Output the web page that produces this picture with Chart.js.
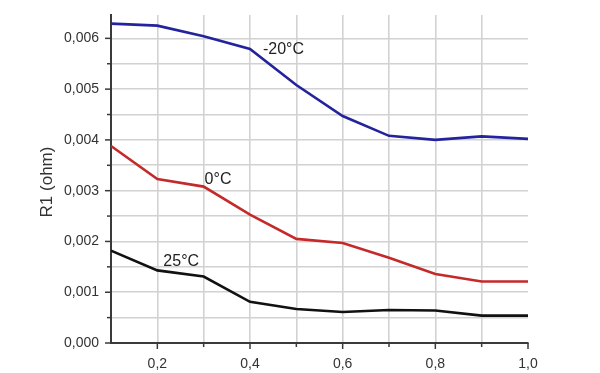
<!DOCTYPE html>
<html>
<head>
<meta charset="utf-8">
<script src="https://cdn.jsdelivr.net/npm/chart.js@4.4.1/dist/chart.umd.min.js"></script>
<style>
html,body{margin:0;padding:0;background:#fff;}
#wrap{width:600px;height:373px;position:relative;}
</style>
</head>
<body>
<div id="wrap"><canvas id="c" width="600" height="373"></canvas></div>
<script>
// ---- data ----
const xValues = [0.1, 0.2, 0.3, 0.4, 0.5, 0.6, 0.7, 0.8, 0.9, 1.0];
const seriesMinus20 = [0.00629, 0.00625, 0.00604, 0.00579, 0.00508, 0.00447, 0.00408, 0.00400, 0.00407, 0.00402];
const series0 = [0.00388, 0.00323, 0.00308, 0.00253, 0.00205, 0.00197, 0.00168, 0.00136, 0.00121, 0.00121];
const series25 = [0.00182, 0.00143, 0.00131, 0.00081, 0.00067, 0.00061, 0.00065, 0.00064, 0.00054, 0.00054];
const seriesNames = ['-20°C', '0°C', '25°C'];
const xTickValues = [0.1, 0.2, 0.3, 0.4, 0.5, 0.6, 0.7, 0.8, 0.9, 1.0];
const xTickLabels = ['', '0,2', '', '0,4', '', '0,6', '', '0,8', '', '1,0'];
const yTickValues = [0, 0.0005, 0.001, 0.0015, 0.002, 0.0025, 0.003, 0.0035, 0.004, 0.0045, 0.005, 0.0055, 0.006];
const yTickLabels = ['0,000', '', '0,001', '', '0,002', '', '0,003', '', '0,004', '', '0,005', '', '0,006'];
const yTitle = 'R1 (ohm)';
// label anchors (data units) for the in-plot series names
const nameAnchorX = [0.428, 0.302, 0.213];
const nameAnchorY = [0.00577, 0.00322, 0.00160];

const colors = ['#23239c', '#c42a2a', '#111111'];
const FONT = '"Liberation Sans", Arial, sans-serif';

function toPts(ys){ return xValues.map((x,i)=>({x:x, y:ys[i]})); }

const tickPlugin = {
  id: 'tickmarks',
  afterDraw(chart){
    const ctx = chart.ctx;
    const xs = chart.scales.x, ys = chart.scales.y;
    const area = chart.chartArea;
    ctx.save();
    ctx.strokeStyle = '#3a3a3a';
    ctx.lineWidth = 1.5;
    yTickValues.forEach((v,i)=>{
      const py = ys.getPixelForValue(v);
      const len = yTickLabels[i] ? 6 : 4;
      ctx.beginPath();
      ctx.moveTo(area.left - len, py);
      ctx.lineTo(area.left, py);
      ctx.stroke();
    });
    xTickValues.forEach((v,i)=>{
      if (i === 0) return;
      const px = xs.getPixelForValue(v);
      const len = xTickLabels[i] ? 6 : 4;
      ctx.beginPath();
      ctx.moveTo(px, area.bottom);
      ctx.lineTo(px, area.bottom + len);
      ctx.stroke();
    });
    ctx.fillStyle = '#222';
    ctx.font = '16px ' + FONT;
    ctx.textBaseline = 'middle';
    ctx.textAlign = 'left';
    seriesNames.forEach((n,i)=>{
      ctx.fillText(n, xs.getPixelForValue(nameAnchorX[i]), ys.getPixelForValue(nameAnchorY[i]));
    });
    ctx.save();
    ctx.translate(47, 182);
    ctx.rotate(-Math.PI/2);
    ctx.textAlign = 'center';
    ctx.font = '17px ' + FONT;
    ctx.fillStyle = '#333';
    ctx.fillText(yTitle, 0, 0);
    ctx.restore();
    ctx.restore();
  }
};

new Chart(document.getElementById('c'), {
  type: 'line',
  data: {
    datasets: [
      {label: seriesNames[0], data: toPts(seriesMinus20), borderColor: colors[0]},
      {label: seriesNames[1], data: toPts(series0), borderColor: colors[1]},
      {label: seriesNames[2], data: toPts(series25), borderColor: colors[2]}
    ].map(d=>Object.assign(d, {borderWidth: 2.6, pointRadius: 0, tension: 0, fill: false}))
  },
  options: {
    responsive: false,
    animation: false,
    devicePixelRatio: 1,
    layout: {padding: {left: 0, top: 15, right: 72, bottom: 0}},
    plugins: {legend: {display: false}, tooltip: {enabled: false}},
    scales: {
      x: {
        type: 'linear',
        min: 0.1, max: 1.0,
        afterBuildTicks(s){ s.ticks = xTickValues.map(v=>({value:v})); },
        afterFit(s){ s.height = 30; s.paddingLeft = 0; s.paddingRight = 0; },
        ticks: {
          padding: 13,
          color: '#333',
          font: {family: FONT, size: 14},
          maxRotation: 0, autoSkip: false,
          callback(v, i){ return xTickLabels[i]; }
        },
        grid: {
          drawTicks: false,
          color(c){ return (c.index === xTickValues.length - 1) ? 'rgba(0,0,0,0)' : '#d2d2d2'; },
          lineWidth: 1.6
        },
        border: {color: '#3a3a3a', width: 2}
      },
      y: {
        type: 'linear',
        min: 0, max: 0.00646,
        afterBuildTicks(s){ s.ticks = yTickValues.map(v=>({value:v})); },
        afterFit(s){ s.width = 111; s.paddingTop = 0; s.paddingBottom = 0; },
        ticks: {
          padding: 12,
          color: '#333',
          font: {family: FONT, size: 14},
          autoSkip: false,
          callback(v, i){ return yTickLabels[i]; }
        },
        grid: {drawTicks: false, color: '#d2d2d2', lineWidth: 1.6},
        border: {color: '#3a3a3a', width: 2}
      }
    }
  },
  plugins: [tickPlugin]
});
</script>
</body>
</html>
